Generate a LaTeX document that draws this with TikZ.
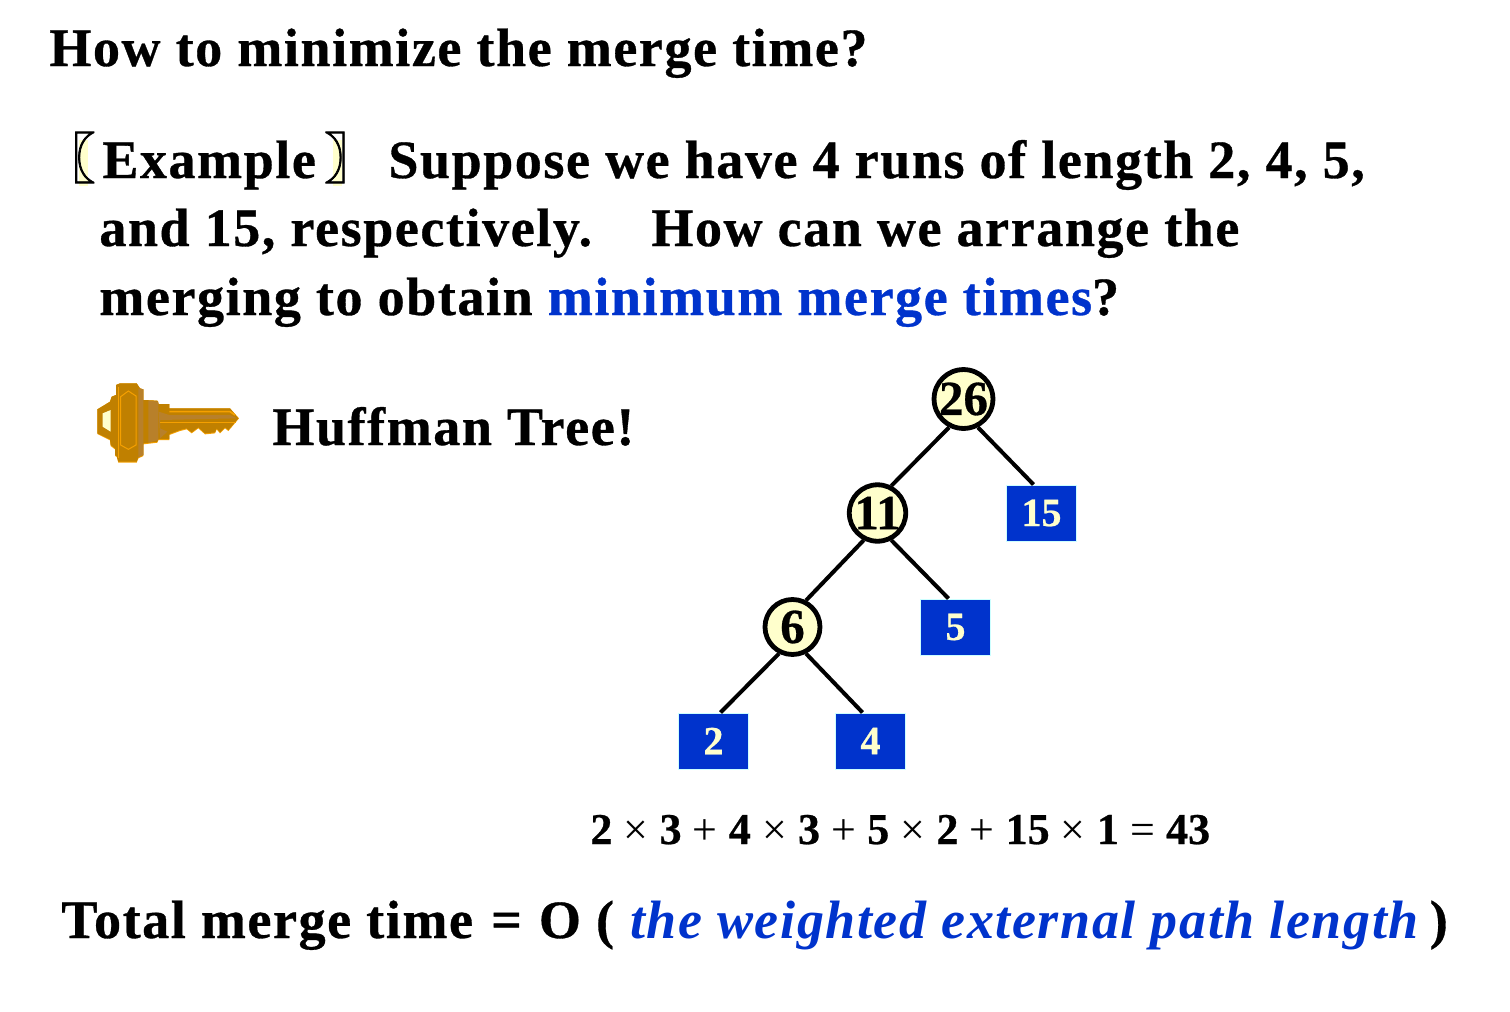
\documentclass[tikz,border=0pt]{standalone}
\usepackage{fontspec}
\setmainfont{Liberation Serif}[BoldFeatures={FakeBold=0.6}]
\newfontfamily\spaced{Liberation Serif}[LetterSpace=2.95,BoldFeatures={FakeBold=0.6}]
\newfontfamily\cjkb{Noto Sans CJK SC}[BoldFeatures={FakeBold=1.4}]
\definecolor{pale}{HTML}{FFFFCC}
\definecolor{royal}{HTML}{0033CC}
\definecolor{keyb}{HTML}{C08000}
\definecolor{keyh}{HTML}{F5A000}
\definecolor{keyd}{HTML}{B8802A}
\definecolor{edgecyan}{HTML}{CCFFFF}
\newcommand{\mainsz}{\spaced\fontsize{27}{32}\selectfont\bfseries}
\newcommand{\opgap}{\hspace{5.6pt}}
\tikzset{
 line/.style={anchor=base west,inner sep=0pt,font=\mainsz},
 brack/.style={anchor=base west,inner sep=0pt,font=\cjkb\fontsize{27}{32}\selectfont\bfseries},
 circ/.style={circle,draw=black,fill=pale,line width=2.4pt,minimum size=27.5pt,inner sep=0pt,font=\fontsize{24.5}{26}\selectfont\bfseries},
 leaf/.style={rectangle,draw=edgecyan,fill=royal,text=pale,line width=.5pt,minimum width=35pt,minimum height=28pt,inner sep=0pt,font=\fontsize{20}{24}\selectfont\bfseries}
}
\tikzset{edge/.style={line width=2pt,black}}
\begin{document}
\begin{tikzpicture}[x=.5pt,y=-.5pt]
\useasboundingbox (0,0) rectangle (1510,1012);
\node[line] (title) at (49,66) {How to minimize the merge time?};
\fill[pale] (79,140) rectangle (88,186);
\node[brack] (lb) at (41,178) {〖};
\node[line] (ex) at (102,178) {Example};
\fill[pale] (333,140) rectangle (342,186);
\node[brack] (rb) at (324,178) {〗};
\node[line] (l1) at (388,178) {Suppose we have 4 runs of length 2, 4, 5,};
\node[line] (l2) at (99,246) {and 15, respectively.};
\node[line] (l2b) at (651,246) {How can we arrange the};
\node[line] (l3) at (99,315) {merging to obtain \textcolor{royal}{minimum merge times}?};
\node[line] (huff) at (272,445) {Huffman Tree!};
% key
\begin{scope}[shift={(80,370)},x=.1667pt,y=-.1667pt]
\fill[keyh] (52,118)--(90,95)--(95,80)--(108,75)--(108,45)--(120,40)--(170,40)--(180,55)--(190,58)--(190,90)--(232,92)--(236,102)--(268,102)--(268,115)--(450,115)--(477,145)--(445,183)--(435,175)--(420,190)--(410,178)--(405,190)--(375,193)--(355,175)--(335,190)--(320,178)--(300,183)--(268,195)--(268,210)--(235,210)--(232,218)--(190,223)--(190,258)--(175,265)--(170,278)--(115,278)--(110,260)--(105,258)--(105,238)--(92,228)--(90,211)--(52,192)--cycle;
\fill[keyb] (52,118)--(90,95)--(95,80)--(108,75)--(108,45)--(120,40)--(170,40)--(180,55)--(190,58)--(190,90)--(232,92)--(236,102)--(268,102)--(268,115)--(450,115)--(475,145)--(445,180)--(435,172)--(420,187)--(410,175)--(405,187)--(375,190)--(355,172)--(335,187)--(320,175)--(300,180)--(268,192)--(268,207)--(235,207)--(232,215)--(190,220)--(190,255)--(175,262)--(170,275)--(115,275)--(110,258)--(105,255)--(105,235)--(92,225)--(90,208)--(52,190)--cycle;
\fill[pale] (68,130)--(92,120)--(92,185)--(68,170)--cycle;
\fill[keyd] (175,55)--(190,58)--(190,255)--(175,262)--cycle;
\fill[keyd] (205,92)--(235,95)--(235,210)--(205,218)--cycle;
\fill[keyd] (236,125)--(268,135)--(450,135)--(470,145)--(240,150)--(240,175)--(262,185)--(240,205)--cycle;
\draw[keyh,line width=.6pt] (115,50)--(115,265);
\draw[keyh,line width=.5pt] (122,80)--(145,63)--(168,78)--(168,225)--(145,238)--(122,225)--cycle;
\draw[keyh,line width=.8pt] (268,125)--(450,125)--(465,135);
\draw[keyh,line width=.8pt] (240,158)--(468,158);
\end{scope}
% tree
\node[circ] (n26) at (963.5,399) {\raisebox{-1pt}{26}};
\node[circ] (n11) at (877.5,513) {\raisebox{-.5pt}{11}};
\node[circ] (n6) at (792.5,627) {\raisebox{-.5pt}{6}};
\node[leaf] (b15) at (1041.5,513) {\raisebox{-.5pt}{15}};
\node[leaf] (b5) at (955.5,627) {\raisebox{-1pt}{5}};
\node[leaf] (b2) at (713.5,741) {\raisebox{-1pt}{2}};
\node[leaf] (b4) at (870.5,741) {\raisebox{-1pt}{4}};
\draw[edge] (n26.-117) -- (n11.63);
\draw[edge] (n11.-117) -- (n6.63);
\draw[edge] (n26.-63) -- ([xshift=-4pt]b15.north);
\draw[edge] (n11.-63) -- ([xshift=-3.5pt]b5.north);
\draw[edge] (n6.-117) -- ([xshift=3.5pt]b2.north);
\draw[edge] (n6.-63) -- ([xshift=-4pt]b4.north);
\node[anchor=base west,inner sep=0pt,font=\fontsize{22}{26}\selectfont\bfseries] (eq) at (590,844) {2\opgap{\mdseries×}\opgap 3\opgap{\mdseries+}\opgap 4\opgap{\mdseries×}\opgap 3\opgap{\mdseries+}\opgap 5\opgap{\mdseries×}\opgap 2\opgap{\mdseries+}\opgap 15\opgap{\mdseries×}\opgap 1\opgap{\mdseries=}\opgap 43};
\node[line] (tot) at (61,938) {Total merge time\hspace{1.5pt} = \hspace{1pt}O ( \hspace{.5pt}\textcolor{royal}{\itshape the weighted external path length}\hspace{-2pt} )};
\end{tikzpicture}
\end{document}
